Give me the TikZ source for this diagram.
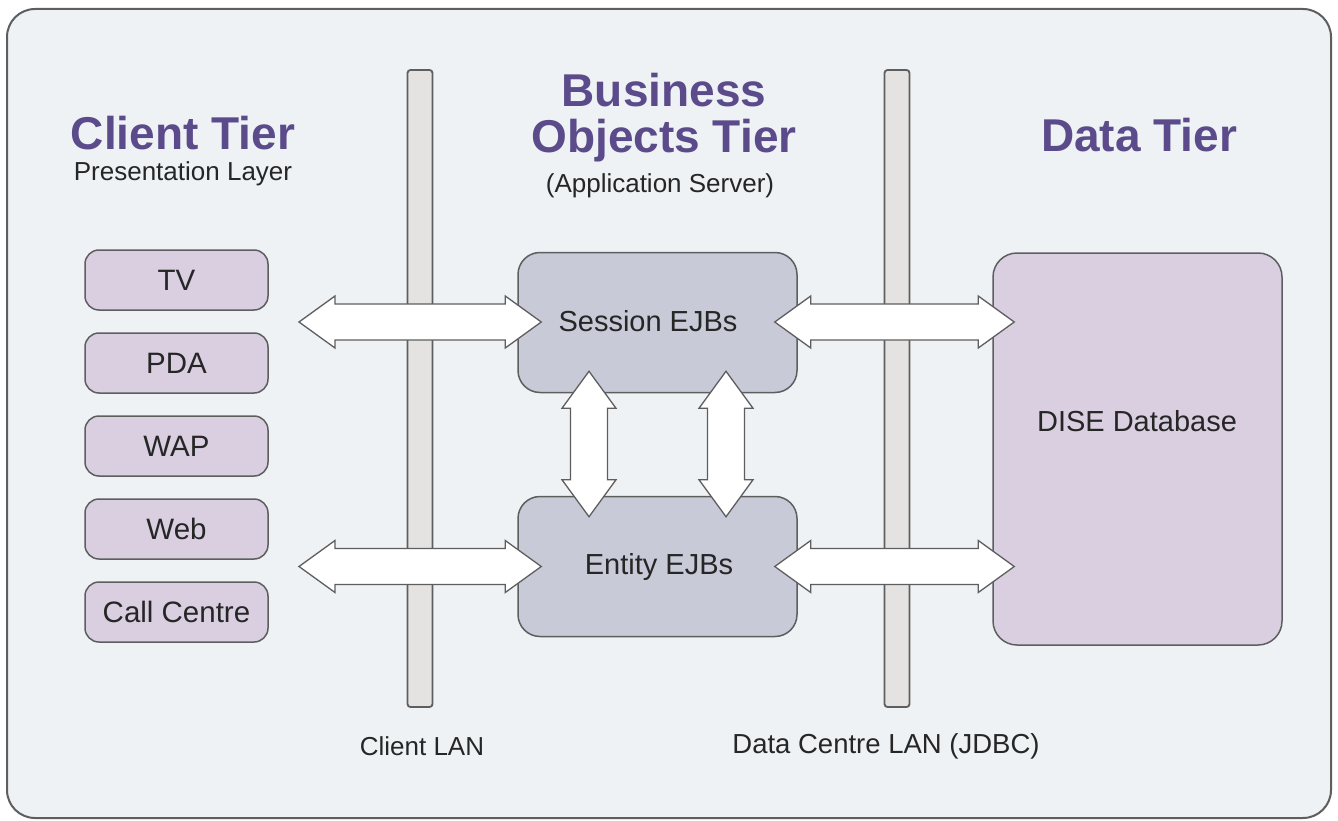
\documentclass[tikz,border=0pt]{standalone}
\usepackage{fontspec}
\setmainfont{Liberation Sans}
\usetikzlibrary{calc}
\definecolor{bgc}{HTML}{EEF2F5}
\definecolor{titlec}{HTML}{5B4B8A}
\definecolor{txtc}{HTML}{262626}
\definecolor{clientc}{HTML}{D9CFE1}
\definecolor{ejbc}{HTML}{C8CAD7}
\definecolor{barc}{HTML}{E4E3E1}
\definecolor{linec}{HTML}{5E5E5E}
\newcommand{\harr}[2]{%
  \draw[blockarrow] (#1) -- ++(36,-26) -- ++(0,8) -- ($(#2)+(-36,-18)$) -- ++(0,-8) -- (#2)
    -- ++(-36,26) -- ++(0,-8) -- ($(#1)+(36,18)$) -- ++(0,8) -- cycle;}
\newcommand{\varr}[2]{%
  \draw[blockarrow] (#1) -- ++(27,37) -- ++(-8.5,0) -- ($(#2)+(18.5,-37)$) -- ++(8.5,0) -- (#2)
    -- ++(-27,-37) -- ++(8.5,0) -- ($(#1)+(-18.5,37)$) -- ++(-8.5,0) -- cycle;}
\tikzset{
  title/.style={text=titlec, font=\fontsize{46}{46}\selectfont\bfseries, inner sep=0pt, align=center},
  sub/.style={text=txtc, font=\fontsize{26}{30}\selectfont, inner sep=0pt},
  boxlabel/.style={text=txtc, font=\fontsize{29}{33}\selectfont, inner sep=0pt},
  clientbox/.style={draw=linec, line width=1.5pt, fill=clientc, rounded corners=14pt,
    minimum width=183pt, minimum height=60pt, text=txtc, font=\fontsize{29.5}{33}\selectfont},
  ejbbox/.style={draw=linec, line width=1.5pt, fill=ejbc, rounded corners=22pt,
    minimum width=279pt, minimum height=140pt},
  dbbox/.style={draw=linec, line width=1.5pt, fill=clientc, rounded corners=24pt,
    minimum width=289pt, minimum height=392pt},
  lanbar/.style={draw=linec, line width=1.8pt, fill=barc, rounded corners=3pt,
    minimum width=25pt, minimum height=637pt},
  blockarrow/.style={draw=linec, line width=1.3pt, fill=white, line join=miter},
}
\begin{document}
\begin{tikzpicture}[x=1pt,y=-1pt]
\useasboundingbox (0,0) rectangle (1338,821);
\draw[draw=linec, line width=2pt, fill=bgc, rounded corners=28pt] (7,9) rectangle (1331,818);
% LAN bars
\node[lanbar] (clan) at (420,388.5) {};
\node[lanbar] (dlan) at (897,388.5) {};
% titles
\node[title] (ct) at (183,133) {Client Tier};
\node[sub] (pl) at (183,174) {Presentation Layer};
\node[title] (bt) at (664,118) {Business\\Objects Tier};
\node[sub] (as) at (660,186) {(Application Server)};
\node[title] (dt) at (1139,135) {Data Tier};
% client boxes
\node[clientbox] (tv) at (176.5,280) {TV};
\node[clientbox] (pda) at (176.5,363) {PDA};
\node[clientbox] (wap) at (176.5,446) {WAP};
\node[clientbox] (web) at (176.5,529) {Web};
\node[clientbox] (cc) at (176.5,612) {Call Centre};
% business objects
\node[ejbbox] (sess) at (657.5,322.5) {};
\node[boxlabel] (sesst) at (648,321) {Session EJBs};
\node[ejbbox] (ent) at (657.5,566.5) {};
\node[boxlabel] (entt) at (659,567) {Entity EJBs};
% database
\node[dbbox] (db) at (1137.5,449) {};
\node[boxlabel] (dbt) at (1137,421) {DISE Database};
% arrow free ends
\coordinate (l1) at (299,322);
\coordinate (l2) at (299,566.5);
\coordinate (sessin) at ($(sess.west)+(24,-0.5)$);
\coordinate (entin) at ($(ent.west)+(24,0)$);
\coordinate (sessout) at ($(sess.east)+(-23,-0.5)$);
\coordinate (entout) at ($(ent.east)+(-23,0)$);
\coordinate (dbin1) at ($(db.west)+(22,-127)$);
\coordinate (dbin2) at ($(db.west)+(22,117.5)$);
\coordinate (v1t) at ($(sess.south)+(-68.5,-22)$);
\coordinate (v1b) at ($(ent.north)+(-68.5,21)$);
\coordinate (v2t) at ($(sess.south)+(68.5,-22)$);
\coordinate (v2b) at ($(ent.north)+(68.5,21)$);
% arrows
\harr{l1}{sessin}
\harr{l2}{entin}
\harr{sessout}{dbin1}
\harr{entout}{dbin2}
\varr{v1t}{v1b}
\varr{v2t}{v2b}
% LAN labels
\node[sub] (clanl) at (422,746) {Client LAN};
\node[sub, font=\fontsize{27.5}{30}\selectfont] (dlanl) at (886,746) {Data Centre LAN (JDBC)};
\end{tikzpicture}
\end{document}
